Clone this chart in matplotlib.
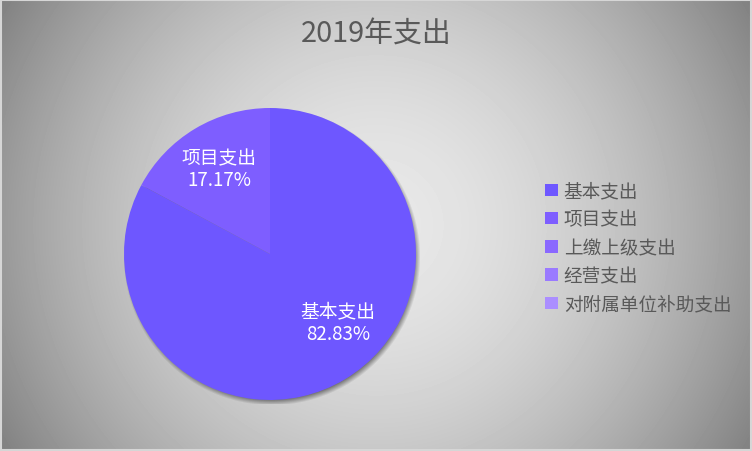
import numpy as np
import matplotlib
matplotlib.use("Agg")
import matplotlib.pyplot as plt
from matplotlib.patches import Rectangle, Patch

plt.rcParams["font.family"] = ["Noto Sans CJK SC", "DejaVu Sans"]

TITLE = "2019年支出"
categories = ["基本支出", "项目支出", "上缴上级支出", "经营支出", "对附属单位补助支出"]
shares = [82.83, 17.17, 0.0, 0.0, 0.0]
colors = ["#6e57ff", "#7e5eff", "#8a68ff", "#9a7aff", "#ab8eff"]

W, H, DPI = 752, 452, 100
fig = plt.figure(figsize=(W / DPI, H / DPI), dpi=DPI)

# radial grey backdrop, light in the middle and dark toward the corners
bg = fig.add_axes([0, 0, 1, 1])
yy, xx = np.mgrid[0:H, 0:W]
dist = np.hypot(xx - W / 2, yy - H / 2) / np.hypot(W / 2, H / 2)
shade = (232 - 104 * dist ** 1.75) / 255
bg.imshow(shade, cmap="gray", vmin=0, vmax=1, extent=[0, W, H, 0], aspect="auto")
bg.set_xlim(0, W)
bg.set_ylim(H, 0)
bg.axis("off")
bg.add_patch(Rectangle((1, 1), W - 2, H - 2, fill=False, edgecolor="#d6d6d6", linewidth=1.5))

fig.text(0.5, 1 - 35 / H, TITLE, ha="center", va="center", fontsize=20.8, color="#595959")

# pie axes: centre (270, 255) px, radius 146 px
cx, cy, R = 270, 255, 146
half = 150
ax = fig.add_axes([(cx - half) / W, (H - cy - half) / H, 2 * half / W, 2 * half / H])

wedges, _ = ax.pie(shares, colors=colors, startangle=90, counterclock=False,
                   radius=R, wedgeprops=dict(linewidth=0))
for w in wedges:
    w.set_zorder(2)

# soft drop shadow under the pie
sy, sx = np.mgrid[-half:half:300j, -half:half:300j]
sd = np.hypot(sx - 2, sy + 3)
alpha = np.clip((R + 3 - sd) / 6, 0, 1) * 0.45
shadow = np.zeros((300, 300, 4))
shadow[..., 3] = alpha
ax.imshow(shadow, extent=[-half, half, -half, half], origin="lower", zorder=1)

# pie() resets the limits to its unit radius, so set them afterwards
ax.set_xlim(-half, half)
ax.set_ylim(-half, half)
ax.set_aspect("equal")
ax.axis("off")

# in-slice labels: name over percentage
label_pos = {0: (-45, 0.66), 1: (None, 0.68)}
for i, (w, name, val) in enumerate(zip(wedges, categories, shares)):
    if val <= 0:
        continue
    ang, frac = label_pos[i]
    if ang is None:
        ang = (w.theta1 + w.theta2) / 2
    x = R * frac * np.cos(np.radians(ang))
    y = R * frac * np.sin(np.radians(ang))
    ax.text(x, y, f"{name}\n{val:.2f}%", ha="center", va="center", color="white",
            fontsize=13.5, linespacing=1.05, zorder=3)

handles = [Patch(facecolor=c, edgecolor="none") for c in colors]
fig.legend(handles, categories, loc="upper left",
           bbox_to_anchor=(538 / W, 1 - 176 / H), frameon=False,
           fontsize=13.4, labelcolor="#595959", handlelength=0.66, handleheight=0.66,
           handletextpad=0.32, labelspacing=0.55, borderaxespad=0)

fig.savefig("out.png", dpi=DPI)
